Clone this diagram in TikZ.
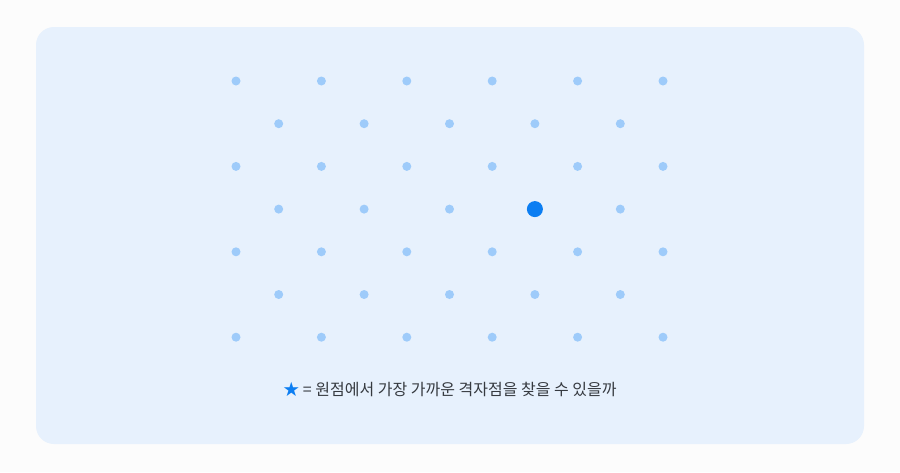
\documentclass[tikz,border=0pt]{standalone}
\usepackage{fontspec}
\newfontfamily\kofont{Noto Sans CJK KR}
\definecolor{pagebg}{HTML}{FCFCFC}
\definecolor{panelbg}{HTML}{E7F1FD}
\definecolor{latticept}{HTML}{9ECBFA}
\definecolor{nearpt}{HTML}{0C7EF2}
\definecolor{captiontext}{HTML}{363A40}

\begin{document}
\begin{tikzpicture}[x=1pt,y=-1pt,
        panel/.style={fill=panelbg,rounded corners=18pt},
        lattice/.style={circle,fill=latticept,inner sep=0pt,minimum size=9pt},
        nearest/.style={circle,fill=nearpt,inner sep=0pt,minimum size=16pt},
        caption/.style={font=\kofont\fontsize{16}{19}\selectfont,text=captiontext}
        ]
        \useasboundingbox[fill=pagebg] (0,0) rectangle (900,472);
        \path[panel] (36,27) rectangle (864,444);

        \foreach \i in {0,...,10}
            \foreach \j in {0,...,6}
            {
                \pgfmathtruncatemacro{\parity}{mod(\i+\j,2)}
                \ifnum\parity=0
                    \node[lattice] (p-\i-\j) at (236+42.7*\i,81+42.7*\j) {};
                \fi
            }

        \node[nearest] (near) at (p-7-3) {};

        \node[caption] (cap) at (450,389.5) {{\color{nearpt}★} = 원점에서 가장 가까운 격자점을 찾을 수 있을까};

    \end{tikzpicture}
\end{document}
